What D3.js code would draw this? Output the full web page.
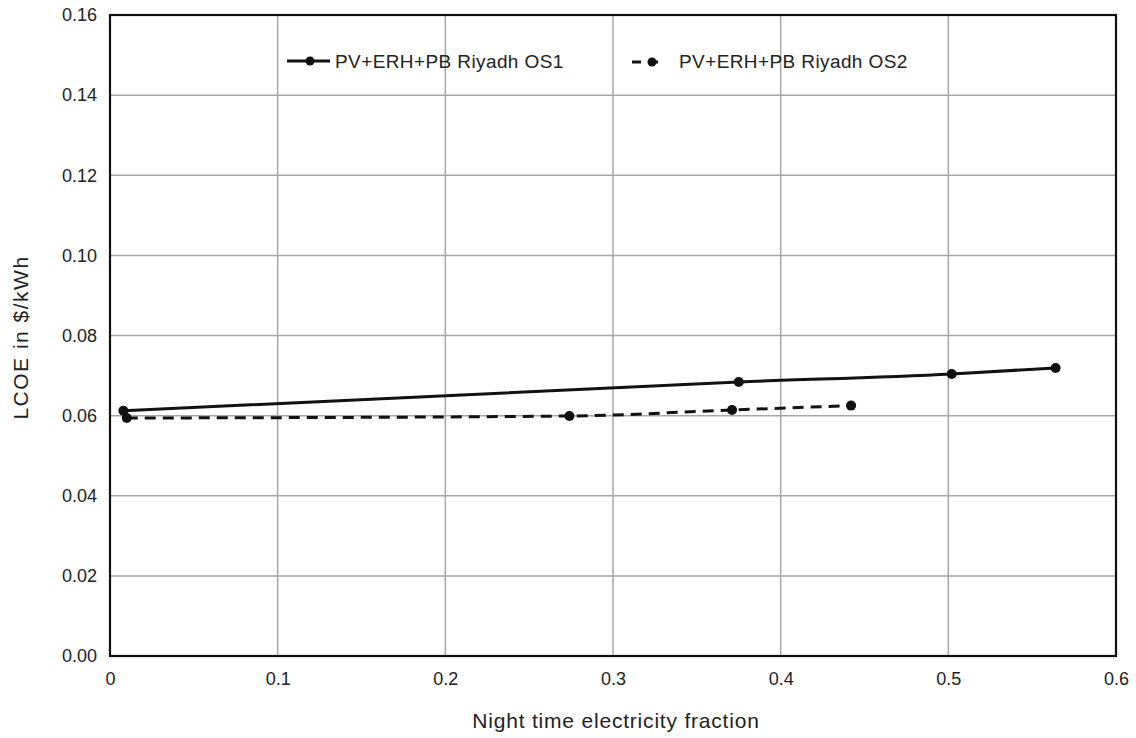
<!DOCTYPE html>
<html>
<head>
<meta charset="utf-8">
<script src="https://cdn.jsdelivr.net/npm/d3@7"></script>
<style>
  body { margin: 0; background: #fff; }
  text { font-family: "Liberation Sans", Arial, sans-serif; fill: #222; }
</style>
</head>
<body>
<svg width="1136" height="738"></svg>
<script>
// series data
var os1X = [0.008, 0.375, 0.502, 0.564];
var os1Y = [0.0612, 0.0684, 0.0704, 0.0719];
var os2X = [0.010, 0.274, 0.371, 0.442];
var os2Y = [0.0594, 0.0599, 0.0614, 0.0625];
var seriesNames = ["PV+ERH+PB Riyadh OS1", "PV+ERH+PB Riyadh OS2"];
var xTicks = [0, 0.1, 0.2, 0.3, 0.4, 0.5, 0.6];
var yTicks = [0, 0.02, 0.04, 0.06, 0.08, 0.10, 0.12, 0.14, 0.16];

var svg = d3.select("svg"),
    margin = {top: 15, right: 20, bottom: 82, left: 110},
    width = +svg.attr("width") - margin.left - margin.right,
    height = +svg.attr("height") - margin.top - margin.bottom;

var x = d3.scaleLinear().domain([0, 0.6]).range([0, width]);
var y = d3.scaleLinear().domain([0, 0.16]).range([height, 0]);

var g = svg.append("g").attr("transform", "translate(" + margin.left + "," + margin.top + ")");

// gridlines
g.append("g")
  .selectAll("line.vx")
  .data(xTicks.slice(1, -1))
  .enter().append("line")
    .attr("x1", d => x(d)).attr("x2", d => x(d))
    .attr("y1", 0).attr("y2", height)
    .attr("stroke", "#a6a6a6").attr("stroke-width", 1.5);

g.append("g")
  .selectAll("line.hy")
  .data(yTicks.slice(1, -1))
  .enter().append("line")
    .attr("x1", 0).attr("x2", width)
    .attr("y1", d => y(d)).attr("y2", d => y(d))
    .attr("stroke", "#a6a6a6").attr("stroke-width", 1.5);

// axes (labels only, frame drawn separately)
var xAxis = g.append("g")
  .attr("transform", "translate(0," + height + ")")
  .call(d3.axisBottom(x).tickValues(xTicks).tickSize(0).tickPadding(16)
    .tickFormat(d => d === 0 ? "0" : d3.format(".1f")(d)));
var yAxis = g.append("g")
  .call(d3.axisLeft(y).tickValues(yTicks).tickSize(0).tickPadding(13)
    .tickFormat(d3.format(".2f")));
[xAxis, yAxis].forEach(function(a) {
  a.select(".domain").remove();
  a.selectAll("text").style("font-size", "18px").style("font-family", "Liberation Sans, Arial, sans-serif").attr("fill", "#222");
});

// frame
g.append("rect")
  .attr("width", width).attr("height", height)
  .attr("fill", "none").attr("stroke", "#111").attr("stroke-width", 2.2);

var line = d3.line()
  .x(d => x(d[0])).y(d => y(d[1]))
  .curve(d3.curveMonotoneX);

var os1 = os1X.map((v, i) => [v, os1Y[i]]);
var os2 = os2X.map((v, i) => [v, os2Y[i]]);

g.append("path").datum(os1)
  .attr("d", line).attr("fill", "none")
  .attr("stroke", "#111").attr("stroke-width", 3);
g.append("path").datum(os2)
  .attr("d", line).attr("fill", "none")
  .attr("stroke", "#111").attr("stroke-width", 3).attr("stroke-dasharray", "11,7");

[os1, os2].forEach(function(s) {
  g.append("g").selectAll("circle")
    .data(s).enter().append("circle")
      .attr("cx", d => x(d[0])).attr("cy", d => y(d[1]))
      .attr("r", 5).attr("fill", "#111");
});

// legend
var leg = svg.append("g");
leg.append("line").attr("x1", 287).attr("x2", 330).attr("y1", 61).attr("y2", 61)
  .attr("stroke", "#111").attr("stroke-width", 3);
leg.append("circle").attr("cx", 310).attr("cy", 61).attr("r", 4.5).attr("fill", "#111");
leg.append("text").attr("x", 335).attr("y", 68).style("font-size", "19px")
  .style("letter-spacing", "0.4px").text(seriesNames[0]);

leg.append("line").attr("x1", 632).attr("x2", 665).attr("y1", 62).attr("y2", 62)
  .attr("stroke", "#111").attr("stroke-width", 3).attr("stroke-dasharray", "9,8");
leg.append("circle").attr("cx", 652).attr("cy", 62).attr("r", 4.5).attr("fill", "#111");
leg.append("text").attr("x", 679).attr("y", 68).style("font-size", "19px")
  .style("letter-spacing", "0.4px").text(seriesNames[1]);

// axis titles
svg.append("text")
  .attr("x", margin.left + width / 2 + 3).attr("y", 728)
  .attr("text-anchor", "middle").style("font-size", "21px")
  .style("letter-spacing", "0.8px")
  .text("Night time electricity fraction");
svg.append("text")
  .attr("transform", "translate(28," + (margin.top + height / 2 + 2) + ") rotate(-90)")
  .attr("text-anchor", "middle").style("font-size", "21px")
  .style("letter-spacing", "1.5px")
  .text("LCOE in $/kWh");
</script>
</body>
</html>
